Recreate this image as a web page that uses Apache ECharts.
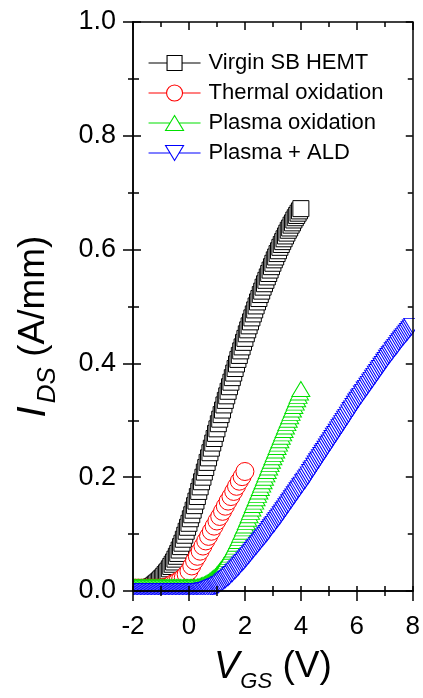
<!DOCTYPE html>
<html><head><meta charset="utf-8">
<script src="https://cdn.jsdelivr.net/npm/echarts@6/dist/echarts.min.js"></script>
<style>html,body{margin:0;padding:0;background:#fff}#c{width:423px;height:698px}</style>
</head><body><div id="c"></div>
<script>
const seriesNames = ['Virgin SB HEMT', 'Thermal oxidation', 'Plasma oxidation', 'Plasma + ALD'];
const xTicks = [-2, 0, 2, 4, 6, 8];
const yTicks = [0.0, 0.2, 0.4, 0.6, 0.8, 1.0];
// gate sweeps start at -2 V; sampling step per curve (V)
const vStart = -2;
const stepVirgin = 0.05, stepThermal = 0.1, stepPlasma = 0.05, stepPlasmaALD = 0.05;

const idsVirgin = [0.005,0.005,0.005,0.005,0.005,0.005,0.005,0.005,0.005,0.005,0.005,0.005,0.006,
  0.007,0.008,0.010,0.012,0.014,0.016,0.018,0.021,0.023,0.026,0.029,0.032,0.035,0.039,0.043,0.047,0.051,
  0.056,0.061,0.066,0.072,0.078,0.084,0.091,0.098,0.105,0.112,
  0.119,0.127,0.134,0.142,0.15,0.158,0.166,0.175,0.183,0.192,0.2,0.209,0.217,0.226,0.234,0.243,0.251,0.26,0.268,0.277,
  0.285,0.294,0.302,0.31,0.318,0.327,0.335,0.343,0.351,0.359,0.367,0.375,0.383,0.391,0.399,0.407,0.414,0.422,0.429,0.437,
  0.444,0.452,0.459,0.466,0.473,0.48,0.487,0.494,0.501,0.508,0.514,0.521,0.527,0.534,0.54,0.546,0.552,0.558,0.564,0.57,
  0.576,0.582,0.587,0.593,0.598,0.604,0.609,0.614,0.619,0.624,0.629,0.634,0.638,0.643,0.647,0.652,0.656,0.66,0.664,0.668,0.672];
const idsThermal = [0.005,0.005,0.005,0.005,0.005,0.005,0.005,0.005,0.005,0.005,0.005,0.006,0.007,0.009,
  0.012,0.014,0.017,0.02,0.024,0.029,
  0.035,0.044,0.053,0.061,0.07,0.079,0.088,0.096,0.105,0.114,0.123,0.131,0.14,0.149,0.158,0.166,0.175,0.184,0.193,0.201,0.21];
const idsPlasma = [0.007,0.007,0.007,0.007,0.007,0.007,0.007,0.007,0.007,0.007,0.007,0.007,0.007,0.007,0.007,0.007,
  0.007,0.007,0.007,0.007,0.007,0.007,0.007,0.007,0.007,0.007,0.007,0.007,0.007,0.007,0.007,0.007,0.007,0.007,0.007,0.007,
  0.007,0.007,0.007,0.007,0.007,0.007,0.007,0.007,0.007,0.007,
  0.008,0.008,0.009,0.01,0.011,0.012,0.013,0.015,0.016,0.018,0.02,0.022,0.024,0.026,
  0.029,0.032,0.035,0.038,0.041,0.045,0.048,0.052,0.056,0.06,0.064,0.069,0.073,0.078,0.083,0.088,0.093,0.099,0.104,0.11,
  0.115,0.121,0.127,0.133,0.139,0.145,0.151,0.157,0.163,0.169,0.175,0.181,0.187,0.193,0.199,0.205,0.211,0.217,0.223,0.229,
  0.235,0.241,0.247,0.253,0.259,0.265,0.271,0.277,0.283,0.289,0.295,0.301,0.307,0.313,0.319,0.325,0.331,0.337,0.343,0.349,0.355];
const idsPlasmaALD = [0,0,0,0,0,0,0,0,0,0,0,0,0,0,0,0,0,0,0,0,0,0,0,0,0,
  0,0,0,0,0,0,0,0,0,0,0,0,0,0,0,0,0,0,0,0,0,0,0,0,0,
  0.001,0.001,0.002,0.002,0.003,0.004,0.005,0.006,0.007,0.008,
  0.009,0.01,0.012,0.013,0.015,0.017,0.019,0.021,0.023,0.025,0.028,0.03,0.033,0.035,0.038,0.04,0.043,0.046,0.049,0.051,
  0.054,0.057,0.06,0.063,0.066,0.069,0.072,0.075,0.078,0.081,0.084,0.087,0.09,0.093,0.096,0.099,0.102,0.105,0.109,0.112,
  0.115,0.118,0.122,0.125,0.128,0.131,0.135,0.138,0.142,0.145,0.149,0.152,0.156,0.159,0.163,0.166,0.17,0.173,0.177,0.18,
  0.184,0.187,0.191,0.194,0.198,0.201,0.205,0.209,0.213,0.216,0.22,0.224,0.228,0.231,0.235,0.239,0.243,0.246,0.25,0.254,
  0.258,0.261,0.265,0.269,0.273,0.276,0.28,0.284,0.288,0.291,0.295,0.299,0.303,0.306,0.31,0.314,0.318,0.321,0.325,0.329,
  0.333,0.336,0.34,0.343,0.347,0.35,0.354,0.357,0.361,0.364,0.368,0.371,0.375,0.378,0.382,0.385,0.389,0.392,0.396,0.399,
  0.403,0.406,0.41,0.413,0.416,0.419,0.423,0.426,0.429,0.432,0.436,0.439,0.442,0.445,0.448,0.451,0.454,0.457,0.46,0.463,0.466];

const FONT = '"Liberation Sans", Arial, sans-serif';
function pairs(arr, step) { return arr.map((y, i) => [+(vStart + i * step).toFixed(2), y]); }

const colors = ['#000000', '#ff0000', '#00e000', '#0000ff'];
const symbols = ['rect', 'circle', 'triangle', 'path://M0,0 L10,0 L5,9 Z'];
const sizes = [16, 18, [18, 15], [18, 15]];
const dataSets = [idsVirgin, idsThermal, idsPlasma, idsPlasmaALD];
const steps = [stepVirgin, stepThermal, stepPlasma, stepPlasmaALD];
// legend glyphs: short line, marker, short line (52 x 20 box)
const legendIcons = [
  'path://M0,0 M52,20 M0,10 L18.5,10 M33.5,10 L52,10 M18.5,2.5 L33.5,2.5 L33.5,17.5 L18.5,17.5 Z',
  'path://M0,0 M52,20 M0,10 L18,10 M34,10 L52,10 M18,10 A8,8 0 1,0 34,10 A8,8 0 1,0 18,10 Z',
  'path://M0,0 M52,20 M0,10 L21.5,10 M30.5,10 L52,10 M26,2.5 L35,17.5 L17,17.5 Z',
  'path://M0,0 M52,20 M0,10 L21.5,10 M30.5,10 L52,10 M17,2.5 L35,2.5 L26,17.5 Z'
];

const chart = echarts.init(document.getElementById('c'), null, {renderer: 'canvas'});

const L = 133, R = 415, T = 22, B = 595, W = 423, H = 698;
const tickStyle = {color: '#000', width: 1.5};
function xAx(pos, inside, len, mlen, labels, extra) {
  return Object.assign({
    type: 'value', position: pos, min: -2, max: 8, interval: 2, z: 10,
    axisLine: {show: true, onZero: false, lineStyle: {color: '#000', width: 1.5}},
    axisTick: {show: true, inside: inside, length: len, lineStyle: tickStyle},
    minorTick: {show: true, splitNumber: 2, length: mlen, lineStyle: tickStyle},
    axisLabel: {show: labels, fontSize: 26, color: '#000', fontFamily: FONT, margin: 23},
    splitLine: {show: false}, minorSplitLine: {show: false}
  }, extra || {});
}
function yAx(pos, inside, len, mlen, labels, extra) {
  return Object.assign({
    type: 'value', position: pos, min: 0, max: 1, interval: 0.2, z: 10,
    axisLine: {show: true, onZero: false, lineStyle: {color: '#000', width: 1.5}},
    axisTick: {show: true, inside: inside, length: len, lineStyle: tickStyle},
    minorTick: {show: true, splitNumber: 2, length: mlen, lineStyle: tickStyle},
    axisLabel: {show: labels, fontSize: 27, color: '#000', fontFamily: FONT, margin: 17,
      formatter: v => v.toFixed(1)},
    splitLine: {show: false}, minorSplitLine: {show: false}
  }, extra || {});
}

const xNameRich = {
  i: {fontFamily: FONT, fontStyle: 'italic', fontSize: 38, color: '#000'},
  s: {fontFamily: FONT, fontStyle: 'italic', fontSize: 22, color: '#000', padding: [30, 0, 0, 1]},
  n: {fontFamily: FONT, fontSize: 37, color: '#000'}
};
const yNameRich = {
  i: {fontFamily: FONT, fontStyle: 'italic', fontSize: 40, color: '#000'},
  s: {fontFamily: FONT, fontStyle: 'italic', fontSize: 26, color: '#000', padding: [28, 0, 0, 3]},
  n: {fontFamily: FONT, fontSize: 37, color: '#000', padding: [0, 40, 0, 0]}
};

const option = {
  animation: false,
  backgroundColor: '#fff',
  grid: {left: L, right: W - R, top: T, bottom: H - B, containLabel: false},
  xAxis: [
    xAx('bottom', false, 10, 5, true, {
      name: '{i|V}{s|GS}{n| (V)}', nameLocation: 'middle', nameGap: 50,
      nameTextStyle: {rich: xNameRich}
    }),
    xAx('bottom', true, 5, 5, false),
    xAx('top', true, 8, 5, false)
  ],
  yAxis: [
    yAx('left', false, 10, 5, true, {
      name: '{i|I}{s|DS}{n| (A/mm)}', nameLocation: 'middle', nameGap: 72, nameRotate: 90,
      nameTextStyle: {rich: yNameRich}
    }),
    yAx('left', true, 8, 6, false),
    yAx('right', true, 7, 5, false)
  ],
  legend: {
    orient: 'vertical', left: 148, top: 52, z: 11, padding: 0,
    itemWidth: 52, itemHeight: 20, itemGap: 8,
    textStyle: {fontFamily: FONT, fontSize: 22, color: '#000', padding: [0, 0, 0, 3]},
    selectedMode: false,
    data: seriesNames.map((n, k) => ({
      name: n,
      icon: legendIcons[k],
      itemStyle: {color: '#fff', borderColor: colors[k], borderWidth: 1.1}
    }))
  },
  graphic: {elements: [
    {type: 'rect', z: 5, silent: true, shape: {x: 0, y: 0, width: L, height: H}, style: {fill: '#fff'}},
    {type: 'rect', z: 5, silent: true, shape: {x: 0, y: B, width: W, height: H - B}, style: {fill: '#fff'}},
    {type: 'rect', z: 5, silent: true, shape: {x: R, y: 0, width: W - R, height: H}, style: {fill: '#fff'}},
    {type: 'rect', z: 5, silent: true, shape: {x: 0, y: 0, width: W, height: T}, style: {fill: '#fff'}}
  ]},
  series: seriesNames.map((n, k) => ({
    name: n, type: 'line', data: pairs(dataSets[k], steps[k]),
    xAxisIndex: 0, yAxisIndex: 0,
    symbol: symbols[k], symbolSize: sizes[k], showSymbol: true, showAllSymbol: true,
    lineStyle: {opacity: 0, width: 1, color: colors[k]},
    itemStyle: {color: '#fff', borderColor: colors[k], borderWidth: 1},
    silent: true, clip: false, emphasis: {disabled: true}
  }))
};
chart.setOption(option);
</script>
</body></html>
